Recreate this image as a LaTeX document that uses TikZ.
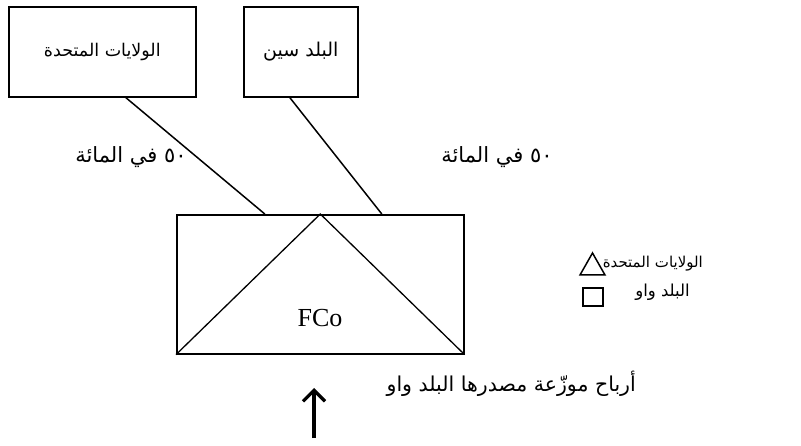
\documentclass[tikz,border=0pt]{standalone}
\usepackage{fontspec}
\setmainfont{Liberation Serif}
\newfontfamily\arabicfont[Script=Arabic]{DejaVu Sans}
\TeXXeTstate=1
\usetikzlibrary{arrows.meta}
\begin{document}
\begin{tikzpicture}[x=1pt,y=-1pt,
  box/.style={draw,line width=1.6pt,inner sep=0pt,anchor=north west},
  link/.style={line width=1.5pt},
  ar/.style={font=\arabicfont\fontsize{#1}{#1}\selectfont,inner sep=0pt},
  ar/.default=18]
\useasboundingbox (0,0) rectangle (801,446);
% shareholder boxes
\node[box,minimum width=187pt,minimum height=90pt] (us) at (8,6) {};
\node[ar=17.5] (ustext) at (us.center) {\beginR الولايات المتحدة\endR};
\node[box,minimum width=114pt,minimum height=90pt] (sin) at (243,6) {};
\node[ar=19] (sintext) at (sin.center) {\beginR البلد سين\endR};
% foreign company
\node[box,minimum width=287pt,minimum height=139pt] (fco) at (176,214) {};
\draw[line width=1.3pt] (fco.south west) -- (fco.north) -- (fco.south east);
\node[font=\fontsize{26}{28}\selectfont,inner sep=0pt] (fcolabel) at (320,318) {FCo};
% ownership links
\draw[link] ([xshift=23.5pt]us.south) -- ([xshift=-55.5pt]fco.north);
\draw[link] ([xshift=-11pt]sin.south) -- ([xshift=61.5pt]fco.north);
\node[ar=21] (pl) at (131,157) {\beginR\beginL ٥٠\endL{} في المائة\endR};
\node[ar=21] (pr) at (497,157) {\beginR\beginL ٥٠\endL{} في المائة\endR};
% legend
\draw[line width=1.5pt] (580,275) -- (605,275) -- (592.5,253) -- cycle;
\node[ar=15,anchor=east] (lus) at (703,264) {\beginR الولايات المتحدة\endR};
\draw[line width=1.5pt] (583,288) rectangle (603,306);
\node[ar=16.5,anchor=east] (lw) at (690,292) {\beginR البلد واو\endR};
% dividends
\coordinate (abot) at (314,438);
\coordinate (atop) at (314,388);
\draw[line width=3.2pt,-{Straight Barb[length=11pt,width=22pt]}] (abot) -- (atop);
\node[ar=20.5,anchor=east] (div) at (636,384) {\beginR أرباح موزّعة مصدرها البلد واو\endR};
\end{tikzpicture}
\end{document}
